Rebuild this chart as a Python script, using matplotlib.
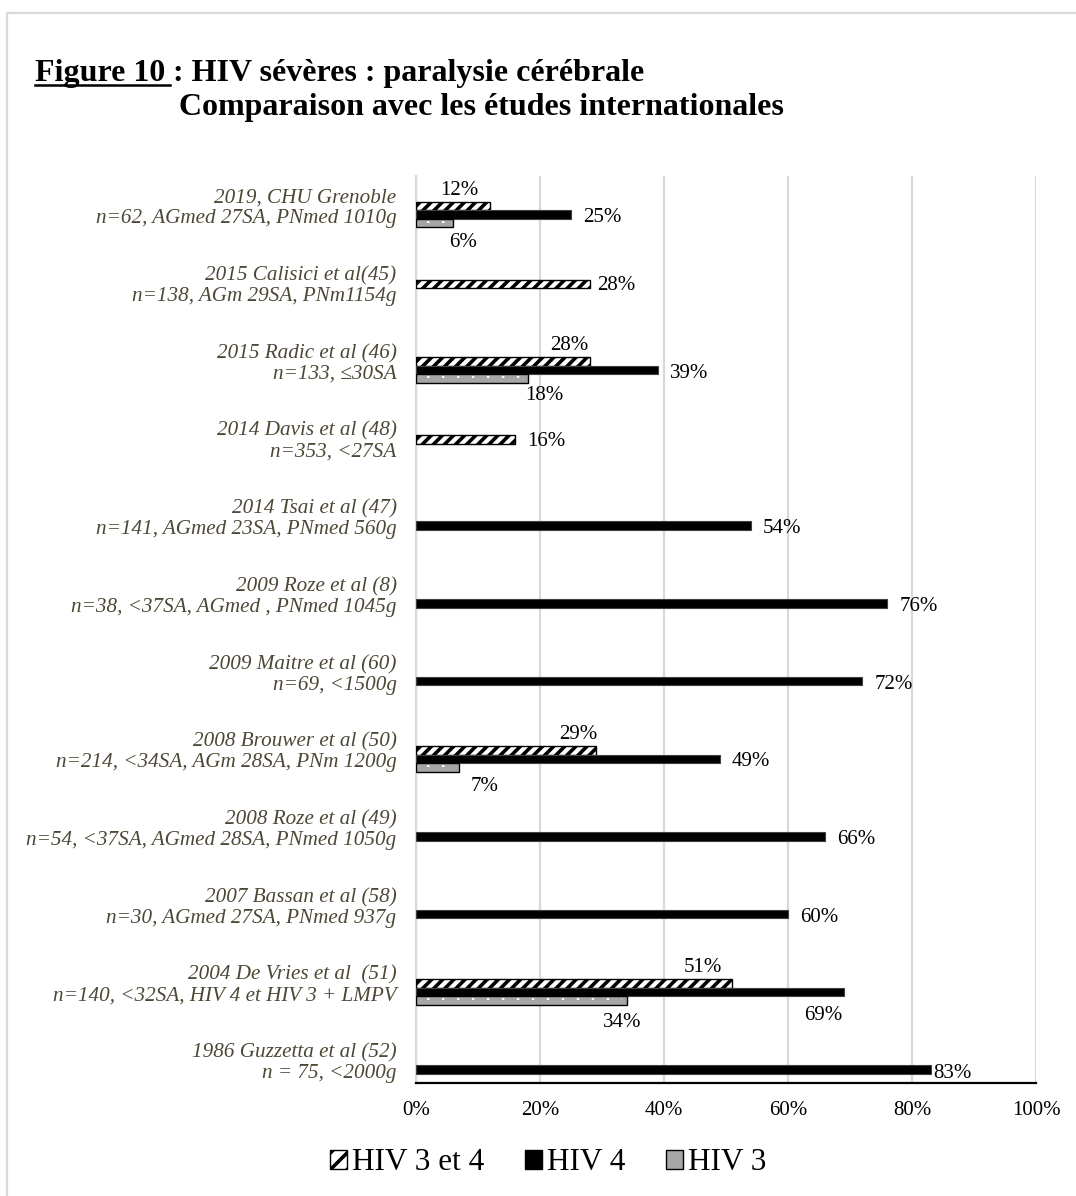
import numpy as np
import matplotlib
matplotlib.use("Agg")
import matplotlib.pyplot as plt
from matplotlib.patches import Rectangle, Patch
from matplotlib.lines import Line2D

# ---------------- data ----------------
categories = [
    "2019, CHU Grenoble\nn=62, AGmed 27SA, PNmed 1010g",
    "2015 Calisici et al(45)\nn=138, AGm 29SA, PNm1154g",
    "2015 Radic et al (46)\nn=133, ≤30SA",
    "2014 Davis et al (48)\nn=353, <27SA",
    "2014 Tsai et al (47)\nn=141, AGmed 23SA, PNmed 560g",
    "2009 Roze et al (8)\nn=38, <37SA, AGmed , PNmed 1045g",
    "2009 Maitre et al (60)\nn=69, <1500g",
    "2008 Brouwer et al (50)\nn=214, <34SA, AGm 28SA, PNm 1200g",
    "2008 Roze et al (49)\nn=54, <37SA, AGmed 28SA, PNmed 1050g",
    "2007 Bassan et al (58)\nn=30, AGmed 27SA, PNmed 937g",
    "2004 De Vries et al  (51)\nn=140, <32SA, HIV 4 et HIV 3 + LMPV",
    "1986 Guzzetta et al (52)\nn = 75, <2000g",
]
nan = np.nan
hiv34 = [12, 28, 28, 16, nan, nan, nan, 29, nan, nan, 51, nan]
hiv4 = [25, nan, 39, nan, 54, 76, 72, 49, 66, 60, 69, 83]
hiv3 = [6, nan, 18, nan, nan, nan, nan, 7, nan, nan, 34, nan]
series_names = ["HIV 3 et 4", "HIV 4", "HIV 3"]
xticks = [0, 20, 40, 60, 80, 100]

# ---------------- style / layout ----------------
W, H, DPI = 1076, 1196, 100
plt.rcParams['font.family'] = ['Liberation Serif', 'DejaVu Serif']
plt.rcParams['hatch.linewidth'] = 2.6

fig = plt.figure(figsize=(W / DPI, H / DPI), dpi=DPI)
ax_left, ax_right, ax_top, ax_bot = 416, 1036, 176, 1083
ax = fig.add_axes([ax_left / W, 1 - ax_bot / H, (ax_right - ax_left) / W, (ax_bot - ax_top) / H])

# border around the figure
fig.patches.append(Rectangle((7 / W, -0.01), 1.1, 1 - 13 / H + 0.01, transform=fig.transFigure,
                             fill=False, edgecolor='#d9d9d9', linewidth=1.6, zorder=0))

n = len(categories)
ypos = np.arange(n)
bar_h = 0.109
offs = [0.016, 0.125, 0.234]

ax.barh(ypos + offs[0], hiv34, height=bar_h, color='white', edgecolor='black',
        hatch='///', linewidth=1.0, zorder=3)
ax.barh(ypos + offs[1], hiv4, height=bar_h, color='black', edgecolor='#404040',
        linewidth=0.8, zorder=3)
ax.barh(ypos + offs[2], hiv3, height=bar_h, color='#a6a6a6', edgecolor='black',
        linewidth=1.0, zorder=3)
# small white dots of the HIV 3 pattern
h3 = np.array(hiv3, dtype=float)
ok = ~np.isnan(h3)
ax.hlines(ypos[ok] + offs[2] - 0.02, 0, h3[ok] - 0.8, colors='white', linewidth=1.4,
          linestyles=(2, (1.2, 6.5)), zorder=4)

ax.set_xlim(0, 100)
ax.set_ylim(11 + 23 / 77.7, -29 / 77.7)
ax.set_xticks(xticks)
ax.set_xticklabels([f"{v}%" for v in xticks], fontsize=15)
ax.set_yticks(ypos)
ax.set_yticklabels(categories, fontsize=15.2, style='italic', color='#4d4836', linespacing=1.12)
ax.tick_params(axis='y', length=0, pad=14)
ax.tick_params(axis='x', length=0, pad=13)
ax.grid(axis='x', color='#d9d9d9', linewidth=1.6, zorder=0)
ax.set_axisbelow(True)
for s in ['top', 'right']:
    ax.spines[s].set_visible(False)
ax.spines['left'].set_color('#d9d9d9')
ax.spines['left'].set_linewidth(1.6)
ax.spines['bottom'].set_color('black')
ax.spines['bottom'].set_linewidth(1.6)

# ---------------- data labels ----------------
# (dx, dy) pixel offsets from bar end / bar centre, with horizontal alignment
lab_pos = {
    (0, 0): (-31, -16, 'center'), (0, 1): (8, 2, 'left'), (0, 2): (-20, -16, 'center'),
    (0, 3): (12, 2, 'left'), (0, 7): (-18, -16, 'center'), (0, 10): (-29, -16, 'center'),
    (2, 0): (10, 19, 'center'), (2, 2): (17, 17, 'center'), (2, 7): (25, 19, 'center'),
    (2, 10): (-5, 22, 'center'), (1, 10): (-21, 24, 'center'), (1, 11): (3, 4, 'left'),
}
for si, vals in enumerate([hiv34, hiv4, hiv3]):
    for ci, v in enumerate(vals):
        if np.isnan(v):
            continue
        dx, dy, ha = lab_pos.get((si, ci), (12, 3, 'left'))
        ax.annotate(f"{int(v)}%", xy=(v, ci + offs[si]), xytext=(dx, -dy),
                    textcoords='offset pixels', ha=ha, va='center', fontsize=15,
                    color='black', zorder=5)

# ---------------- legend ----------------
handles = [Patch(facecolor='white', edgecolor='black', hatch='//', linewidth=1.0),
           Patch(facecolor='black', edgecolor='black'),
           Patch(facecolor='#a6a6a6', edgecolor='black', linewidth=1.0)]
fig.legend(handles, series_names, loc='center', bbox_to_anchor=(548 / W, 1 - 1163 / H),
           ncol=3, frameon=False, fontsize=22.5, handlelength=0.55, handleheight=0.55,
           handletextpad=0.15, columnspacing=1.3)

# ---------------- title ----------------
t1 = fig.text(35 / W, 1 - 73 / H, "Figure 10 ", fontsize=23, fontweight='bold',
              ha='left', va='center')
fig.canvas.draw()
r = fig.canvas.get_renderer()
bb = t1.get_window_extent(r)
fig.text(bb.x1 / W, 1 - 73 / H, ": HIV sévères : paralysie cérébrale", fontsize=23,
         fontweight='bold', ha='left', va='center')
# underline "Figure 10 "
ul_y = (bb.y0 + 3) / H
fig.add_artist(Line2D([bb.x0 / W, (bb.x1 - 3) / W], [ul_y, ul_y], transform=fig.transFigure,
                      color='black', linewidth=1.8))
fig.text(179 / W, 1 - 107 / H, "Comparaison avec les études internationales", fontsize=23,
         fontweight='bold', ha='left', va='center')

fig.savefig("out.png", dpi=DPI)
